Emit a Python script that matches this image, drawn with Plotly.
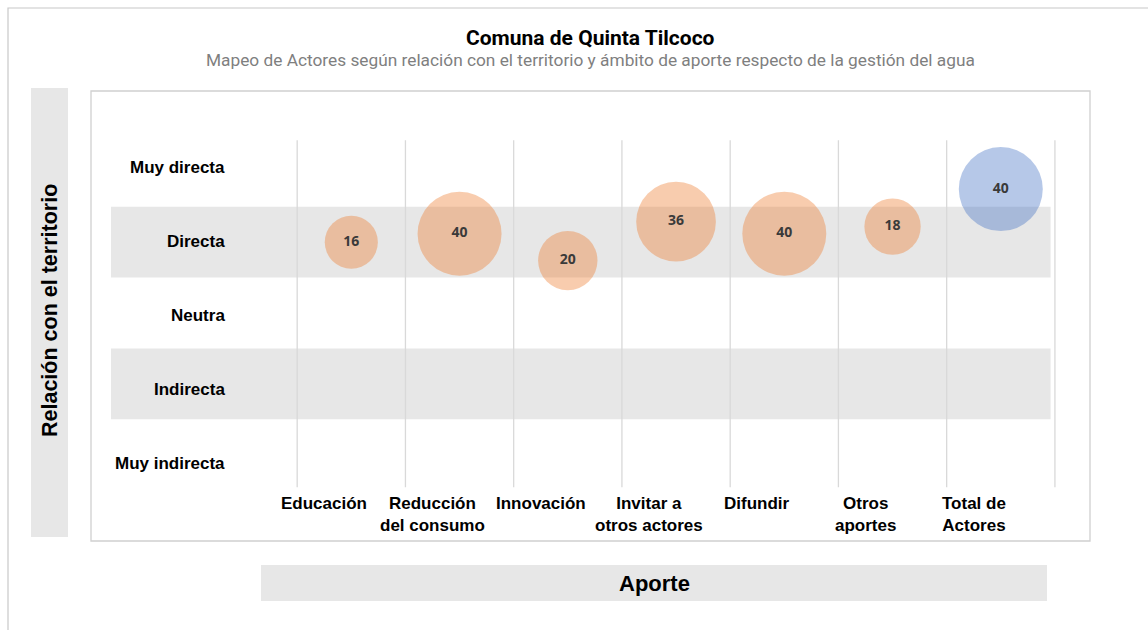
import plotly.graph_objects as go

# --- data -------------------------------------------------------------
aportes = ["Educación", "Reducción<br>del consumo", "Innovación", "Invitar a<br>otros actores",
           "Difundir", "Otros<br>aportes", "Total de<br>Actores"]
actores = [16, 40, 20, 36, 40, 18, 40]
relacion_pos = [4.0, 4.12, 3.74, 4.29, 4.12, 4.22, 4.75]   # position on the relation scale
relaciones = ["Muy indirecta", "Indirecta", "Neutra", "Directa", "Muy directa"]

W, H = 1148, 630

def px(x):
    return x / W

def py(y):
    return 1 - y / H

ORANGE = "rgba(237,125,49,0.56)"
BLUE = "rgba(68,114,196,0.56)"
BAND = "#E7E7E7"
GRID = "#D9D9D9"
LABEL_FONT = "Liberation Sans"

xs = list(range(1, len(aportes) + 1))
colors = [ORANGE] * (len(aportes) - 1) + [BLUE]

fig = go.Figure()
fig.add_trace(go.Scatter(
    x=xs, y=relacion_pos,
    mode="markers+text",
    text=[str(v) for v in actores],
    textposition="middle center",
    textfont=dict(family="Open Sans", size=14, color="#3A3A3A", weight="bold"),
    marker=dict(size=actores, sizemode="area", sizeref=2 * 40 / 84 ** 2,
                color=colors, line=dict(width=0)),
    hovertemplate="%{text} actores<extra></extra>",
    showlegend=False,
))

x0, x1 = -1.22, 7.51
shapes = []
# shaded rows for "Directa" and "Indirecta"
for r in (4, 2):
    shapes.append(dict(type="rect", xref="x", yref="y", x0=x0, x1=7.46, y0=r - 0.5, y1=r + 0.5,
                       fillcolor=BAND, line=dict(width=0), layer="below"))
# vertical separators between contribution categories
for i in range(len(aportes) + 1):
    g = i + 0.5
    shapes.append(dict(type="line", xref="x", yref="y", x0=g, x1=g, y0=0.54, y1=5.44,
                       line=dict(color=GRID, width=1.3), layer="below"))
# axis title boxes
shapes.append(dict(type="rect", xref="paper", yref="paper", x0=px(31), x1=px(68), y0=py(537), y1=py(88),
                   fillcolor=BAND, line=dict(width=0), layer="below"))
shapes.append(dict(type="rect", xref="paper", yref="paper", x0=px(261), x1=px(1047), y0=py(601), y1=py(565),
                   fillcolor=BAND, line=dict(width=0), layer="below"))
# plot frame and outer frame
shapes.append(dict(type="rect", xref="paper", yref="paper", x0=px(91), x1=px(1090), y0=py(541), y1=py(91),
                   line=dict(color="#D0D0D0", width=1.3), layer="below"))
shapes.append(dict(type="path", xref="paper", yref="paper",
                   path=f"M {px(8)},0 L {px(8)},{py(8)} L 1,{py(8)}",
                   line=dict(color="#C8C8C8", width=1.2), layer="below"))

annotations = []
# category labels under each column
for x, lab in zip(xs, aportes):
    annotations.append(dict(x=x, y=py(492), xref="x", yref="paper", text=f"<b>{lab}</b>",
                            showarrow=False, xanchor="center", yanchor="top", xshift=-27,
                            font=dict(family=LABEL_FONT, size=17, color="#000000")))
# relation labels (own scale, a little more spread than the bubble rows)
for r, lab in enumerate(relaciones, start=1):
    annotations.append(dict(x=px(227), y=r, xref="paper", yref="y2", text=f"<b>{lab}</b>",
                            showarrow=False, xanchor="right", yanchor="middle",
                            font=dict(family=LABEL_FONT, size=17, color="#000000")))
# titles
annotations.append(dict(x=px(590), y=py(38), xref="paper", yref="paper", yanchor="middle",
                        xanchor="center", text="<b>Comuna de Quinta Tilcoco</b>", showarrow=False,
                        font=dict(family="Roboto", size=21, color="#000000")))
annotations.append(dict(x=px(590), y=py(60), xref="paper", yref="paper", yanchor="middle",
                        xanchor="center",
                        text="Mapeo de Actores según relación con el territorio y ámbito de aporte respecto de la gestión del agua",
                        showarrow=False, font=dict(family="Roboto", size=17.3, color="#7F7F7F")))
annotations.append(dict(x=px(50), y=py(311), xref="paper", yref="paper", textangle=-90,
                        xanchor="center", yanchor="middle",
                        text="<b>Relación con el territorio</b>", showarrow=False,
                        font=dict(family=LABEL_FONT, size=21.5, color="#000000")))
annotations.append(dict(x=px(654), y=py(583), xref="paper", yref="paper",
                        xanchor="center", yanchor="middle",
                        text="<b>Aporte</b>", showarrow=False,
                        font=dict(family=LABEL_FONT, size=22, color="#000000")))

fig.update_layout(
    width=W, height=H,
    margin=dict(l=0, r=0, t=0, b=0),
    paper_bgcolor="white", plot_bgcolor="rgba(0,0,0,0)",
    xaxis=dict(domain=[px(111), px(1056)], range=[x0, x1], visible=False, fixedrange=True),
    yaxis=dict(domain=[py(490), py(136)], range=[0.5, 5.5], visible=False, fixedrange=True),
    yaxis2=dict(domain=[py(500), py(131)], range=[0.5, 5.5], visible=False, fixedrange=True,
                anchor="x"),
    shapes=shapes, annotations=annotations,
)

fig.write_html("out.html")
